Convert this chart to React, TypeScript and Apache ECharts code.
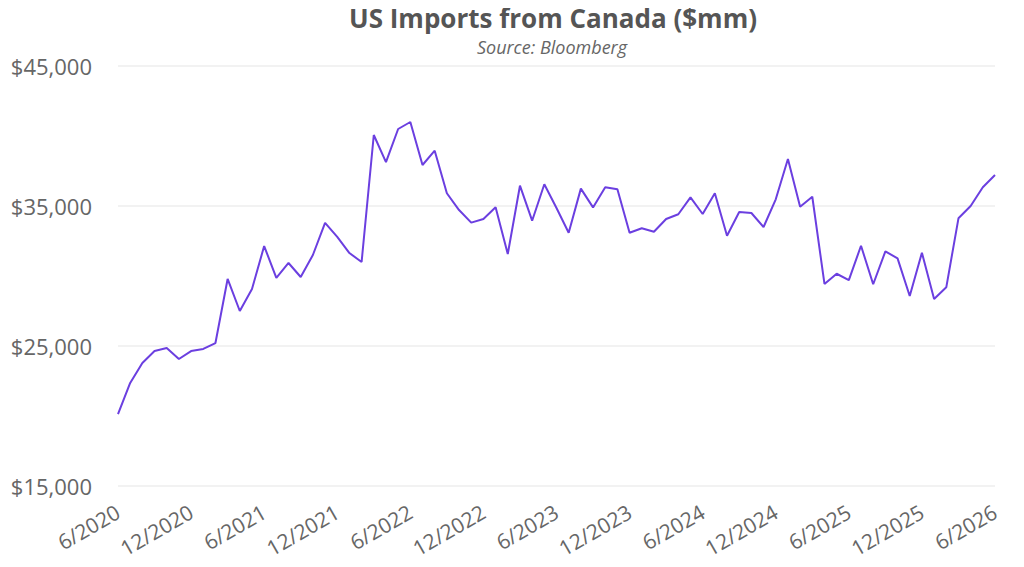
import React, { useEffect, useRef } from "react";
import * as echarts from "echarts";

const startYear = 2020;
const startMonth = 6;
const imports = [
  20140, 22360, 23790, 24640, 24860, 24070, 24640, 24790, 25210, 29790, 27500, 29070,
  32140, 29860, 30930, 29930, 31500, 33790, 32790, 31640, 31000, 40070, 38140, 40500,
  41000, 37930, 38950, 35910, 34710, 33810, 34070, 34910, 31570, 36450, 33950, 36550,
  34860, 33090, 36240, 34900, 36340, 36190, 33090, 33410, 33160, 34070, 34410, 35620,
  34430, 35910, 32880, 34570, 34500, 33500, 35480, 38360, 34950, 35660, 29430, 30160,
  29710, 32160, 29410, 31760, 31260, 28570, 31660, 28360, 29190, 34120, 35000, 36340,
  37210,
];
const months: string[] = imports.map((_, i) => {
  const m0 = startMonth - 1 + i;
  return `${(m0 % 12) + 1}/${startYear + Math.floor(m0 / 12)}`;
});
const yTicks = [15000, 25000, 35000, 45000];

const FONT = "Open Sans";

export default function App() {
  const ref = useRef<HTMLDivElement>(null);
  useEffect(() => {
    if (!ref.current) return;
    const chart = echarts.init(ref.current, undefined, { renderer: "svg" });
    chart.setOption({
      animation: false,
      title: [
        {
          text: "US Imports from Canada ($mm)",
          left: 553,
          textAlign: "center",
          top: 4,
          padding: 0,
          textStyle: { fontFamily: FONT, fontSize: 26, lineHeight: 28, fontWeight: "bold", color: "#555" },
        },
        {
          text: "Source: Bloomberg",
          left: 552,
          textAlign: "center",
          top: 36,
          padding: 0,
          textStyle: { fontFamily: FONT, fontSize: 18, lineHeight: 21, fontWeight: "normal", fontStyle: "italic", color: "#666" },
        },
      ],
      grid: { left: 118, right: 29, top: 66, bottom: 81 },
      xAxis: {
        type: "category",
        data: months,
        boundaryGap: false,
        axisLine: { show: false },
        axisTick: { show: false },
        axisLabel: {
          interval: 5,
          rotate: 30,
          margin: 24,
          fontFamily: FONT,
          fontSize: 21,
          color: "#666",
        },
        splitLine: { show: false },
      },
      yAxis: {
        type: "value",
        min: yTicks[0],
        max: yTicks[yTicks.length - 1],
        interval: 10000,
        axisLine: { show: false },
        axisTick: { show: false },
        axisLabel: {
          margin: 26,
          fontFamily: FONT,
          fontSize: 22,
          color: "#666",
          formatter: (v: number) => "$" + v.toLocaleString("en-US"),
        },
        splitLine: { lineStyle: { color: "#eeeeee", width: 1.5 } },
      },
      series: [
        {
          type: "line",
          data: imports,
          showSymbol: false,
          lineStyle: { color: "#6B3FE0", width: 2 },
        },
      ],
    });
    return () => chart.dispose();
  }, []);
  return <div ref={ref} style={{ width: 1024, height: 567, margin: -8 }} />;
}
